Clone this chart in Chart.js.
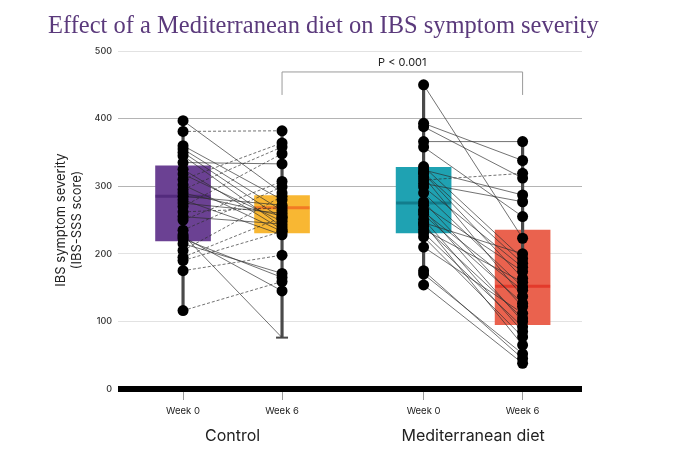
<!DOCTYPE html>
<html>
<head>
<meta charset="utf-8">
<script src="https://cdn.jsdelivr.net/npm/chart.js@4.4.1/dist/chart.umd.min.js"></script>
<style>
  html, body { margin: 0; padding: 0; background: #fff; }
  #wrap { width: 680px; height: 455px; }
</style>
</head>
<body>
<div id="wrap"><canvas id="ibsChart" width="680" height="455"></canvas></div>

<script>
// x positions of the four columns (linear axis) and their labels
var xPos = [1, 2, 3.43, 4.43]
var weekLabels = ['Week 0', 'Week 6', 'Week 0', 'Week 6']
var groupLabels = ['Control', 'Mediterranean diet']
var chartTitle = 'Effect of a Mediterranean diet on IBS symptom severity'

// paired IBS-SSS scores, one entry per participant
var controlWeek0 = [397, 381, 360, 355, 350, 345, 335, 325, 318, 310, 302, 295, 290, 285, 280,
                    275, 270, 262, 255, 250, 228, 235, 225, 222, 215, 205, 195, 190, 175, 116]
var controlWeek6 = [290, 382, 280, 264, 252, 240, 333, 236, 248, 364, 233, 358, 256, 272, 228,
                    260, 348, 268, 244, 307, 76, 299, 145, 165, 171, 285, 254, 233, 198, 159]
var medWeek0 = [450, 393, 388, 366, 358, 329, 324, 320, 319, 314, 309, 304, 299, 290, 277,
                272, 265, 262, 258, 251, 246, 245, 241, 236, 231, 225, 210, 175, 170, 154]
var medWeek6 = [223, 338, 312, 366, 255, 193, 287, 186, 164, 137, 319, 277, 180, 151, 122,
                174, 100, 146, 127, 85, 200, 65, 105, 158, 92, 77, 112, 45, 52, 38]

// box summaries per column: lower quartile, median, upper quartile, whisker ends
var boxQ1 = [219, 231, 231, 95]
var boxMedian = [285, 268, 275, 152]
var boxQ3 = [330, 286, 328, 235]
var whiskerLow = [116, 76, 154, 38]
var whiskerHigh = [397, 382, 450, 366]
// column whose lower whisker ends in a cap (no dot drawn there)
var cappedColumn = 1

var boxColors = ['#6b4193', '#f8b733', '#1fa2b2', '#ea624e']
var medianColors = ['#532b7d', '#f27a24', '#127c8c', '#e33a2b']

var pValueText = 'P < 0.001'

function pairs(a, b, xa, xb) {
  var out = []
  for (var i = 0; i < a.length; i++) {
    out.push({x: xa, y: a[i]}, {x: xb, y: b[i]}, {x: (xa + xb) / 2, y: null})
  }
  return out
}

function dots(a, x) {
  return a.map(function (v) { return {x: x, y: v} })
}

var lineData = pairs(controlWeek0, controlWeek6, xPos[0], xPos[1])
  .concat(pairs(medWeek0, medWeek6, xPos[2], xPos[3]))

var dotData = dots(controlWeek0, xPos[0]).concat(dots(controlWeek6, xPos[1]),
  dots(medWeek0, xPos[2]), dots(medWeek6, xPos[3]))

var boxData = xPos.map(function (x, i) { return {x: x, y: [boxQ1[i], boxQ3[i]]} })
var whiskerData = xPos.map(function (x, i) { return {x: x, y: [whiskerLow[i], whiskerHigh[i]]} })
var medianData = xPos.map(function (x, i) { return {x: x, y: boxMedian[i]} })

// title, bracket + group labels
var extras = {
  id: 'extras',
  afterDatasetsDraw: function (chart) {
    var ctx = chart.ctx
    var xs = chart.scales.x, ys = chart.scales.y
    ctx.save()
    // title (drawn here so it is not squeezed to the plot width)
    ctx.fillStyle = '#5b3a7c'
    ctx.font = '24.5px "Liberation Serif"'
    ctx.textAlign = 'left'
    ctx.textBaseline = 'alphabetic'
    ctx.fillText(chartTitle, 48, 33)

    var x1 = xs.getPixelForValue(xPos[1]), x2 = xs.getPixelForValue(xPos[3])
    var yTop = ys.getPixelForValue(469), yBot = ys.getPixelForValue(435)
    ctx.strokeStyle = '#9a9a9a'
    ctx.lineWidth = 1
    ctx.beginPath()
    ctx.moveTo(x1, yBot); ctx.lineTo(x1, yTop); ctx.lineTo(x2, yTop); ctx.lineTo(x2, yBot)
    ctx.stroke()
    ctx.fillStyle = '#222'
    ctx.font = '11px Inter'
    ctx.textAlign = 'center'
    ctx.textBaseline = 'bottom'
    ctx.fillText(pValueText, (x1 + x2) / 2, yTop - 4)

    ctx.font = '16px Inter'
    ctx.textBaseline = 'middle'
    var bottom = chart.chartArea.bottom
    ctx.fillText(groupLabels[0], (xs.getPixelForValue(xPos[0]) + xs.getPixelForValue(xPos[1])) / 2, bottom + 47)
    ctx.fillText(groupLabels[1], (xs.getPixelForValue(xPos[2]) + xs.getPixelForValue(xPos[3])) / 2, bottom + 47)
    ctx.restore()
  }
}

var ctx = document.getElementById('ibsChart').getContext('2d')
var ibsChart = new Chart(ctx, {
  type: 'scatter',
  data: {
    datasets: [
      {
        type: 'bar', label: 'box', data: boxData, order: 6,
        backgroundColor: boxColors, borderWidth: 0,
        barThickness: 55, grouped: false
      },
      {
        type: 'bar', label: 'whisker', data: whiskerData, order: 5,
        backgroundColor: '#4a4a4a', borderWidth: 0,
        barThickness: 2.5, grouped: false
      },
      {
        type: 'scatter', label: 'median', data: medianData, order: 4,
        pointStyle: 'line', pointRadius: 27.5, pointBorderWidth: 3,
        pointBorderColor: medianColors, pointBackgroundColor: medianColors
      },
      {
        type: 'scatter', label: 'cap', order: 4,
        data: [{x: xPos[cappedColumn], y: whiskerLow[cappedColumn]}],
        pointStyle: 'line', pointRadius: 6, pointBorderWidth: 2,
        pointBorderColor: '#4a4a4a'
      },
      {
        type: 'line', label: 'pairs', data: lineData, order: 3,
        borderColor: 'rgba(45,45,45,0.75)', borderWidth: 0.9,
        pointRadius: 0, spanGaps: false, tension: 0,
        segment: {
          borderDash: function (c) {
            return c.p1.parsed.y > c.p0.parsed.y ? [3, 2] : undefined
          }
        }
      },
      {
        type: 'scatter', label: 'dots', data: dotData, order: 1,
        pointBackgroundColor: '#000', pointBorderWidth: 0,
        pointRadius: function (c) {
          var r = c.raw
          if (r && r.x === xPos[cappedColumn] && r.y === whiskerLow[cappedColumn]) return 0
          return 5.5
        }
      }
    ]
  },
  options: {
    responsive: false,
    animation: false,
    layout: { padding: { left: 48, right: 98, top: 51, bottom: 0 } },
    plugins: {
      legend: { display: false },
      tooltip: { enabled: false },
      title: { display: false }
    },
    scales: {
      x: {
        type: 'linear',
        min: 0.343,
        max: 5.03,
        offset: false,
        border: { display: false },
        grid: { offset: false, drawOnChartArea: false, drawTicks: true, tickLength: 11, color: '#9a9a9a' },
        ticks: {
          color: '#222', font: { family: 'Inter', size: 9.5 }, padding: 5,
          callback: function (v, i) { return weekLabels[i] }
        },
        afterBuildTicks: function (s) { s.ticks = xPos.map(function (v) { return {value: v} }) },
        afterFit: function (s) { s.height = 66 }
      },
      y: {
        min: 0,
        max: 500,
        border: { display: false },
        grid: {
          drawTicks: false,
          color: function (c) {
            var v = c.tick.value
            if (v === 0) return '#000'
            if (v === 300 || v === 400) return '#b4b4b4'
            return '#e2e2e2'
          },
          lineWidth: function (c) { return c.tick.value === 0 ? 6 : 1 }
        },
        ticks: {
          stepSize: 100, padding: 6, color: '#333',
          font: { family: 'Inter', size: 9, weight: '500' }
        },
        title: {
          display: true,
          text: ['IBS symptom severity', '(IBS-SSS score)'],
          color: '#222',
          font: { family: 'Inter', size: 13, lineHeight: 1.25 },
          padding: { top: 5, bottom: 0 }
        },
        afterFit: function (s) { s.width = 70 }
      }
    }
  },
  plugins: [extras]
})
</script>
</body>
</html>
